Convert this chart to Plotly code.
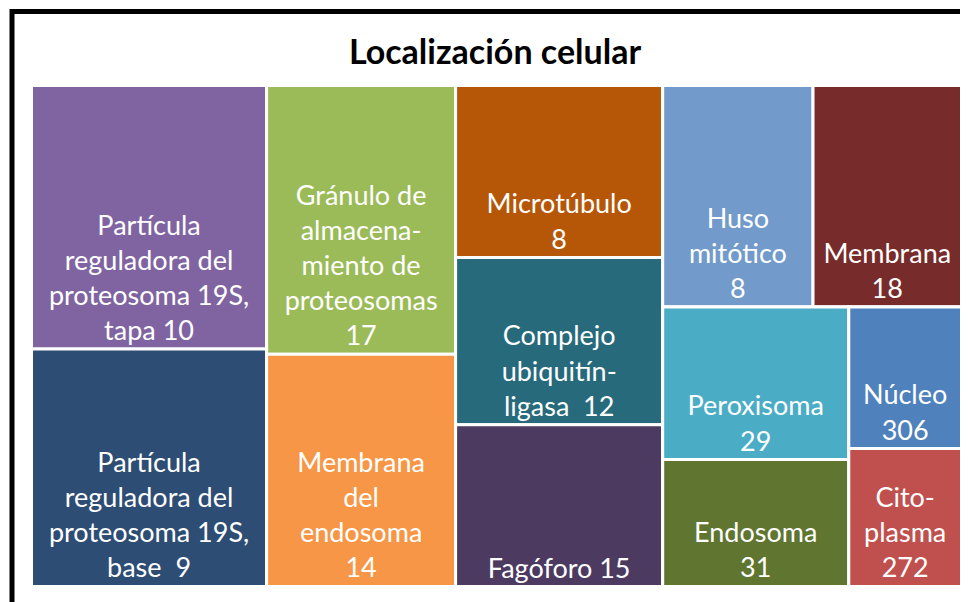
import plotly.graph_objects as go

# ── Data ──────────────────────────────────────────────────────────────────────
# leaf categories, the counts printed in each tile, and tile sizes read off the
# original (its tile areas do not follow the counts)
names = [
    "Partícula reguladora del proteosoma 19S, tapa",
    "Partícula reguladora del proteosoma 19S, base",
    "Gránulo de almacenamiento de proteosomas",
    "Membrana del endosoma",
    "Microtúbulo",
    "Complejo ubiquitín-ligasa",
    "Fagóforo",
    "Huso mitótico",
    "Membrana",
    "Peroxisoma",
    "Endosoma",
    "Núcleo",
    "Citoplasma",
]
counts = [10, 9, 17, 14, 8, 12, 15, 8, 18, 29, 31, 306, 272]
tile_size = [61400, 55300, 50300, 43500, 35300, 34300, 33200,
             33000, 32600, 28100, 23400, 15800, 15400]
groups = ["c1", "c1", "c2", "c2", "c3", "c3", "c3",
          "c4_top", "c4_top", "c4_left", "c4_left", "c4_right", "c4_right"]

# wrapped labels as shown in the tiles
wrapped = [
    "Partícula<br>reguladora del<br>proteosoma 19S,<br>tapa ",
    "Partícula<br>reguladora del<br>proteosoma 19S,<br>base  ",
    "Gránulo de<br>almacena-<br>miento de<br>proteosomas<br>",
    "Membrana<br>del<br>endosoma<br>",
    "Microtúbulo<br>",
    "Complejo<br>ubiquitín-<br>ligasa  ",
    "Fagóforo ",
    "Huso<br>mitótico<br>",
    "Membrana<br>",
    "Peroxisoma<br>",
    "Endosoma<br>",
    "Núcleo<br>",
    "Cito-<br>plasma<br>",
]

colors = ["#8064A2", "#2D4D74", "#9BBB59", "#F79646", "#B65708", "#276A7C",
          "#4D3A61", "#729ACA", "#772B2A", "#4BACC6", "#5F7530", "#4F81BD",
          "#C0504D"]

# grouping nodes (slice-dice packing alternates direction with depth)
group_ids = ["root", "c1", "c2", "c3", "c4", "c4_top", "c4_bottom",
             "c4_left", "c4_right"]
group_parents = ["", "root", "root", "root", "root", "c4", "c4",
                 "c4_bottom", "c4_bottom"]

ids = group_ids + names
parents = group_parents + groups
values = [0] * len(group_ids) + tile_size
texts = [""] * len(group_ids) + [w + str(c) for w, c in zip(wrapped, counts)]
fills = ["white"] * len(group_ids) + colors

W, H = 968, 602
OFF = 8  # page body margin shifts the figure by 8px

fig = go.Figure(go.Treemap(
    ids=ids,
    labels=ids,
    parents=parents,
    values=values,
    branchvalues="remainder",
    text=texts,
    texttemplate="%{text}",
    textposition="bottom center",
    textfont=dict(family="Lato, sans-serif", size=27, color="white"),
    marker=dict(colors=fills, line=dict(color="white", width=3),
                pad=dict(t=0, l=0, r=0, b=0)),
    tiling=dict(packing="slice-dice", pad=0),
    pathbar=dict(visible=False),
    sort=False,
    hoverinfo="skip",
    domain=dict(x=[(31.5 - OFF) / W, (961.5 - OFF) / W],
                y=[1 - (586.5 - OFF) / H, 1 - (85.5 - OFF) / H]),
))

fig.update_layout(
    width=W, height=H,
    margin=dict(l=0, r=0, t=0, b=0),
    paper_bgcolor="white",
    title=dict(text="<b>Localización celular</b>", x=(495 - OFF) / W,
               xanchor="center", y=1 - (52 - OFF) / H, yanchor="middle",
               font=dict(family="Lato, sans-serif", size=34, color="black")),
    shapes=[dict(type="rect", xref="paper", yref="paper",
                 x0=(12 - OFF) / W, x1=1.05, y0=-0.05,
                 y1=1 - (11.5 - OFF) / H,
                 line=dict(color="black", width=5))],
)

fig.write_html("out.html")
